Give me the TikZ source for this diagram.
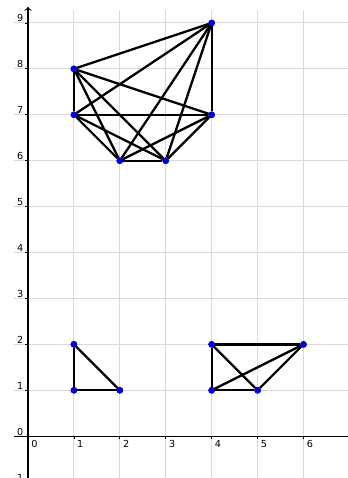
\documentclass[tikz,border=0pt]{standalone}
\usepackage{fontspec}
\setmainfont{DejaVu Sans}
\tikzset{
  vertex/.style={circle, fill=blue, draw=blue!60!black, inner sep=0pt, minimum size=1.3mm},
  edge/.style={line width=1.4pt, black},
  gridline/.style={gray!30, line width=0.6pt},
  ticklabel/.style={font=\fontsize{6}{7}\selectfont, inner sep=1pt}
}
\begin{document}
\begin{tikzpicture}
\useasboundingbox (-0.61,-0.91) rectangle (6.96,9.5);

% Grid
\foreach \x in {1,...,6} \draw[gridline] (\x,-0.91) -- (\x,9.28);
\foreach \y in {-1,1,2,...,9} \draw[gridline] (-0.3,\y) -- (6.96,\y);

% Axes
\draw[line width=0.7pt] (-0.3,0) -- (6.96,0);
\draw[->, line width=0.7pt] (0,-0.91) -- (0,9.35);

% Ticks and labels
\foreach \x in {1,...,6} {
  \draw[line width=0.5pt] (\x,0) -- (\x,-0.06);
  \node[ticklabel, anchor=north west] at (\x+0.03,-0.05) {\x};
}
\node[ticklabel, anchor=north west] at (0.03,-0.05) {0};
\foreach \y in {-1,0,1,...,9} {
  \draw[line width=0.5pt] (0,\y) -- (-0.06,\y);
  \node[ticklabel, anchor=south east] at (-0.06,\y-0.02) {\y};
}

% K6 on top
\node[vertex] (a) at (1,8) {};
\node[vertex] (b) at (1,7) {};
\node[vertex] (c) at (2,6) {};
\node[vertex] (d) at (3,6) {};
\node[vertex] (e) at (4,7) {};
\node[vertex] (f) at (4,9) {};
\foreach \u/\v in {a/b,a/c,a/d,a/e,a/f,b/c,b/d,b/e,b/f,c/d,c/e,c/f,d/e,d/f,e/f}
  \draw[edge] (\u) -- (\v);

% K3 bottom left
\node[vertex] (p) at (1,2) {};
\node[vertex] (q) at (1,1) {};
\node[vertex] (r) at (2,1) {};
\foreach \u/\v in {p/q,q/r,r/p}
  \draw[edge] (\u) -- (\v);

% K4 bottom right
\node[vertex] (s) at (4,2) {};
\node[vertex] (t) at (4,1) {};
\node[vertex] (u) at (5,1) {};
\node[vertex] (w) at (6,2) {};
\foreach \i/\j in {s/t,s/u,s/w,t/u,t/w,u/w}
  \draw[edge] (\i) -- (\j);

% dots again on top of the edges
\foreach \n in {a,b,c,d,e,f,p,q,r,s,t,u,w}
  \fill[blue!85!black] (\n) circle (0.07);
\end{tikzpicture}
\end{document}
